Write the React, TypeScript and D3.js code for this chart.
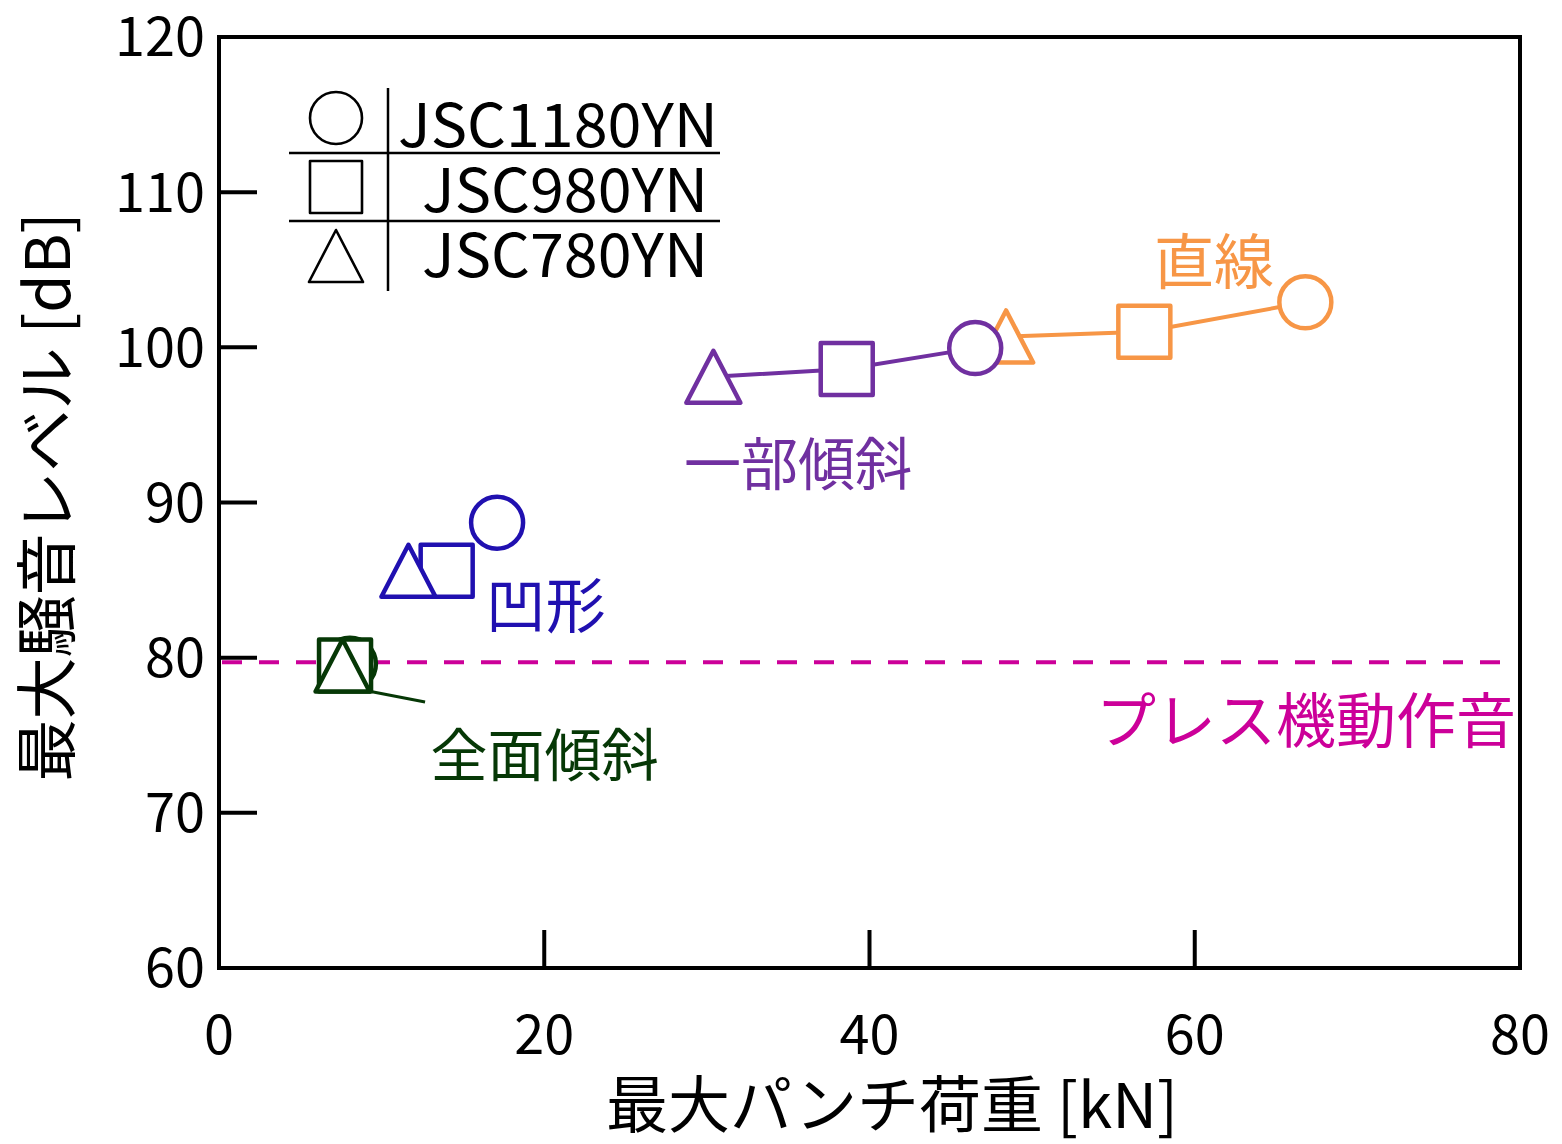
import React from "react";
import * as d3 from "d3";

// ---- data ----
const steels = ["JSC1180YN", "JSC980YN", "JSC780YN"];
const shapes = ["circle", "square", "triangle"]; // per steel
const methods = ["直線", "一部傾斜", "凹形", "全面傾斜"];
const connected = [true, true, false, false];
// punch load [kN] per method, order: 1180, 980, 780
const loadStraight = [66.8, 56.9, 48.4];
const noiseStraight = [102.9, 101.0, 100.7];
const loadPartial = [46.5, 38.6, 30.4];
const noisePartial = [99.95, 98.6, 98.1];
const loadConcave = [17.1, 14.0, 11.65];
const noiseConcave = [88.7, 85.6, 85.6];
const loadFull = [8.05, 7.75, 7.6];
const noiseFull = [79.6, 79.5, 79.5];
const pressNoise = 79.7;
const xTicks = [0, 20, 40, 60, 80];
const yTicks = [60, 70, 80, 90, 100, 110, 120];

const colors = ["#F79646", "#7030A0", "#2010B0", "#063806"];
const pressColor = "#CC0099";
const FONT = "'Noto Sans CJK JP', 'Noto Sans', sans-serif";

const W = 1562, H = 1144;
const L = 219, R = 1520, T = 37, B = 968;

function Marker({ shape, x, y, s, color, sw }: any) {
  const h = s / 2;
  if (shape === "circle") return <circle cx={x} cy={y} r={h} fill="white" stroke={color} strokeWidth={sw} />;
  if (shape === "square") return <rect x={x - h} y={y - h} width={s} height={s} fill="white" stroke={color} strokeWidth={sw} strokeLinejoin="round" />;
  const p = `M${x},${y - h}L${x + h * 1.04},${y + h}L${x - h * 1.04},${y + h}Z`;
  return <path d={p} fill="white" stroke={color} strokeWidth={sw} strokeLinejoin="round" />;
}

export default function App() {
  const x = d3.scaleLinear().domain([0, 80]).range([L, R]);
  const y = d3.scaleLinear().domain([60, 120]).range([B, T]);
  const loads = [loadStraight, loadPartial, loadConcave, loadFull];
  const noises = [noiseStraight, noisePartial, noiseConcave, noiseFull];

  // label anchors in data units
  const labelPos: [number, number][] = [[57.5, 104.1], [28.6, 91.15], [16.4, 81.9], [13.0, 72.4]];
  const labelSize = [60, 57, 60, 57];

  // draw order within each method
  const markerOrder = [[2, 1, 0], [2, 1, 0], [1, 2, 0], [0, 1, 2]];

  return (
    <svg width={W} height={H} style={{ display: "block", position: "absolute", left: 0, top: 0 }} fontFamily={FONT}>
      <rect width={W} height={H} fill="white" />
      {/* press line */}
      <line x1={x(0) + 3} x2={x(80) - 3} y1={y(pressNoise)} y2={y(pressNoise)} stroke={pressColor} strokeWidth={4} strokeDasharray="20 17" />
      <text x={x(80) - 4} y={y(pressNoise) + 81} fill={pressColor} fontSize={60} textAnchor="end">プレス機動作音</text>

      {/* green leader */}
      <line x1={x(9.41)} y1={y(77.8)} x2={x(12.67)} y2={y(77.14)} stroke={colors[3]} strokeWidth={3} />

      {methods.map((m, mi) => {
        const pts = loads[mi].map((v, i) => [x(v), y(noises[mi][i])] as [number, number]);
        return (
          <g key={m}>
            {connected[mi] && (
              <path d={d3.line()(pts) || ""} fill="none" stroke={colors[mi]} strokeWidth={4} />
            )}
            {markerOrder[mi].map((i) => (
              <Marker key={i} shape={shapes[i]} x={pts[i][0]} y={pts[i][1]} s={52} color={colors[mi]} sw={4.5} />
            ))}
            <text x={x(labelPos[mi][0])} y={y(labelPos[mi][1])} fill={colors[mi]} fontSize={labelSize[mi]}>{m}</text>
          </g>
        );
      })}

      {/* frame */}
      <rect x={L} y={T} width={R - L} height={B - T} fill="none" stroke="black" strokeWidth={4} />
      {yTicks.map((t) => (
        <g key={t}>
          {t > 60 && t < 120 && <line x1={L} x2={L + 38} y1={y(t)} y2={y(t)} stroke="black" strokeWidth={4} />}
          <text x={L - 14} y={y(t)} dy="0.36em" fontSize={54} textAnchor="end">{t}</text>
        </g>
      ))}
      {xTicks.map((t) => (
        <g key={t}>
          {t > 0 && t < 80 && <line x1={x(t)} x2={x(t)} y1={B} y2={B - 38} stroke="black" strokeWidth={4} />}
          <text x={x(t)} y={B + 86} fontSize={54} textAnchor="middle">{t}</text>
        </g>
      ))}
      <text x={892} y={1128} fontSize={62} textAnchor="middle">最大パンチ荷重 [kN]</text>
      <text transform={`translate(70,497) rotate(-90)`} fontSize={62} textAnchor="middle">最大騒音レベル [dB]</text>

      {/* legend */}
      <g>
        <line x1={388} x2={388} y1={88} y2={291} stroke="black" strokeWidth={2.5} />
        <line x1={289} x2={720} y1={153} y2={153} stroke="black" strokeWidth={2.5} />
        <line x1={289} x2={720} y1={221} y2={221} stroke="black" strokeWidth={2.5} />
        {steels.map((s, i) => (
          <g key={s}>
            <Marker shape={shapes[i]} x={336} y={118 + i * 69} s={52} color="black" sw={2.6} />
            <text x={i === 0 ? 398 : 422} y={147 + i * 65} fontSize={60}
              textLength={i === 0 ? 320 : 286} lengthAdjust="spacingAndGlyphs">{s}</text>
          </g>
        ))}
      </g>
    </svg>
  );
}
